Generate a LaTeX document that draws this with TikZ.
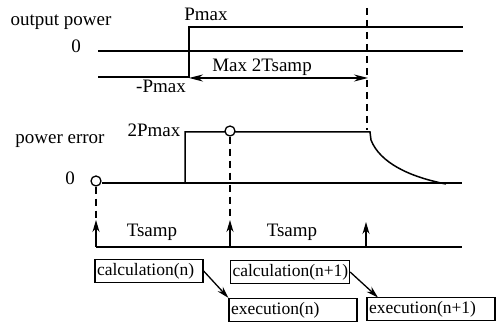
\documentclass[tikz,border=0pt]{standalone}
\usepackage{fontspec}
\setmainfont{Liberation Serif}
\usetikzlibrary{arrows.meta}
\begin{document}
\begin{tikzpicture}[x=1pt,y=-1pt,
  lbl/.style={font=\fontsize{19}{21}\selectfont, inner sep=0pt},
  sig/.style={line width=1.5pt},
  axis/.style={line width=1.3pt},
  guide/.style={line width=1.3pt, dash pattern=on 7pt off 5pt},
  tip/.style={-{Stealth[length=12pt,width=7pt]}, line width=1.3pt},
  box/.style={draw, line width=1.3pt, font=\fontsize{17.5}{19}\selectfont, minimum height=23pt, inner xsep=2pt, inner ysep=0pt, align=left},
  ring/.style={circle, draw, line width=1.3pt, minimum size=10pt, inner sep=0pt}
]
\useasboundingbox (0,0) rectangle (496,328);
% ---------- output power ----------
\node[lbl] (op) at (61,22) {output power};
\node[lbl] (z1) at (76,46) {0};
\node[lbl] (pm) at (206,14) {Pmax};
\node[lbl] (npm) at (161,86) {-Pmax};
\coordinate (z1a) at (98,51);
\coordinate (z1b) at (463,51);
\draw[axis] (z1a) -- (z1b);
\coordinate (o0) at (98,77);
\coordinate (o1) at (189,77);
\coordinate (o2) at (189,27);
\coordinate (o3) at (463,27);
\draw[sig] (o0) -- (o1) -- (o2) -- (o3);
\coordinate (ma) at (189,78);
\coordinate (mb) at (368,78);
\draw[line width=1.3pt, {Stealth[length=14pt,width=7pt]}-{Stealth[length=14pt,width=7pt]}] (ma) -- (mb);
\node[lbl] (mx) at (262,67) {Max 2Tsamp};
\coordinate (d3a) at (367,8);
\coordinate (d3b) at (367,130);
\draw[guide] (d3a) -- (d3b);
% ---------- power error ----------
\node[lbl] (pe) at (60,141) {power error};
\node[lbl] (z2) at (70,178) {0};
\node[lbl] (p2) at (154,130) {2Pmax};
\node[ring] (c0) at (96,181) {};
\coordinate (z2b) at (462,183);
\draw[axis] (c0.east |- z2b) -- (z2b);
\coordinate (e1) at (185,183);
\coordinate (e2) at (185,132);
\coordinate (e3) at (370,132);
\coordinate (e4) at (371,140);
\coordinate (e5) at (446,184);
\draw[sig] (e1) -- (e2) -- (e3) -- (e4) .. controls (380,163) and (410,177) .. (e5);
\node[ring, fill=white] (c1) at (230,131) {};
% ---------- time line ----------
\coordinate (t0) at (96,247);
\coordinate (t1) at (230,247);
\coordinate (t2) at (366,247);
\coordinate (t3) at (462,247);
\coordinate (a0) at (96,220);
\coordinate (a1) at (230,220);
\coordinate (a2) at (366,222);
\draw[axis] (t0) -- (t3);
\draw[tip] (t0) -- (a0);
\draw[tip] (t1) -- (a1);
\draw[tip] (t2) -- (a2);
\draw[guide] (c0.south) -- (a0);
\draw[guide] (c1.south) -- (a1);
\node[lbl] (ts1) at (152,232) {Tsamp};
\node[lbl] (ts2) at (292,232) {Tsamp};
% ---------- boxes ----------
\node[box, text width=104pt] (cn) at (149,271) {calculation(n)};
\node[box, text width=115pt] (cn1) at (290,272) {calculation(n+1)};
\node[box, text width=124pt] (ex) at (293,310) {execution(n)};
\node[box, text width=124pt] (ex1) at (431,309) {execution(n+1)};
\coordinate (ex1in) at (378,297.5);
\draw[tip] (cn.east) -- (ex.north west);
\draw[tip] (cn1.east) -- (ex1in);
\end{tikzpicture}
\end{document}
